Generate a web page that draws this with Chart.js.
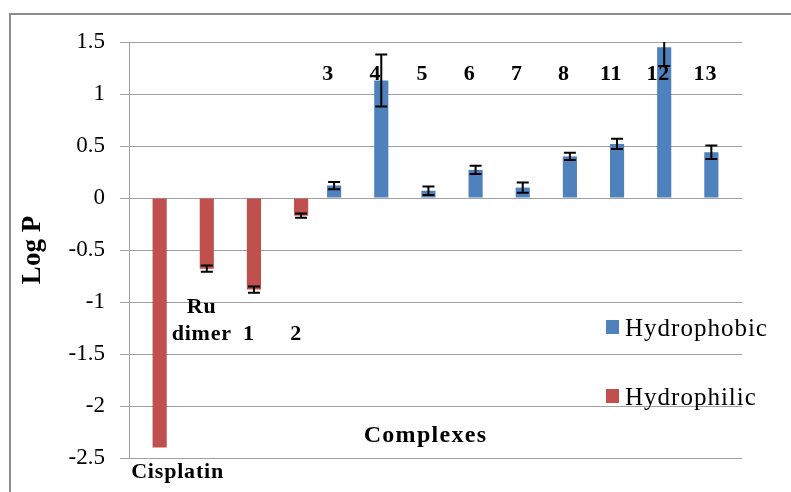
<!DOCTYPE html>
<html>
<head>
<meta charset="utf-8">
<script src="https://cdn.jsdelivr.net/npm/chart.js@4.4.1/dist/chart.umd.min.js"></script>
<style>
  html, body { margin: 0; padding: 0; background: #fff; }
  #wrap { position: relative; width: 791px; height: 492px; overflow: hidden; }
  #frame { position: absolute; left: 9px; top: 13px; width: 900px; height: 600px;
           border-top: 2px solid #8c8c8c; border-left: 2px solid #8c8c8c; }
  canvas { position: absolute; left: 0; top: 0; }
</style>
</head>
<body>
<div id="wrap">
  <div id="frame"></div>
  <canvas id="logpChart" width="791" height="492"></canvas>
</div>
<script>
// Log P values
const categories = ["Cisplatin", "Ru dimer", "1", "2", "3", "4", "5", "6", "7", "8", "11", "12", "13"];
const hydrophobic    = [null, null, null, null, 0.12, 1.13, 0.07, 0.27, 0.10, 0.40, 0.52, 1.45, 0.44];
const hydrophobicErr = [null, null, null, null, 0.035, 0.25, 0.04, 0.04, 0.05, 0.035, 0.05, 0.18, 0.065];
const hydrophilic    = [-2.40, -0.68, -0.88, -0.17, null, null, null, null, null, null, null, null, null];
const hydrophilicErr = [0, 0.03, 0.03, 0.02, null, null, null, null, null, null, null, null, null];
const yTicks = { min: -2.5, max: 1.5, step: 0.5 };

const BLUE = "#4f81bd";
const RED = "#c0504d";
const SERIF = '"Liberation Serif", "Times New Roman", serif';

// category names are written inside the plot, not on an axis
const labelPlugin = {
  id: "complexLabels",
  afterDatasetsDraw(chart) {
    const ctx = chart.ctx, x = chart.scales.x, y = chart.scales.y, area = chart.chartArea;
    ctx.save();
    ctx.fillStyle = "#000";
    ctx.textAlign = "center";
    ctx.textBaseline = "alphabetic";
    ctx.font = "bold 22px " + SERIF;
    ctx.letterSpacing = "0.8px";
    categories.forEach((name, i) => {
      const cx = x.getPixelForValue(i);
      let px, py;
      if (i === 0) {
        px = cx + 25; py = area.bottom + 20;
      } else if (hydrophilic[i] != null) {
        px = cx + 2; py = y.getPixelForValue(-1.37);
      } else {
        px = cx - 13; py = y.getPixelForValue(1.135);
      }
      const lines = name.split(" ");
      lines.forEach((ln, k) => ctx.fillText(ln, px, py - (lines.length - 1 - k) * 27));
    });

    ctx.font = "bold 24px " + SERIF;
    ctx.letterSpacing = "1.3px";
    ctx.fillText("Complexes", (area.left + area.right) / 2 - 10, y.getPixelForValue(-2.35));
    ctx.restore();
  }
};

// black error bars, clipped to the plot
const errorBarsPlugin = {
  id: "errorBars",
  afterDatasetsDraw(chart) {
    const ctx = chart.ctx, y = chart.scales.y, area = chart.chartArea;
    ctx.save();
    ctx.beginPath();
    ctx.rect(area.left, area.top, area.right - area.left, area.bottom - area.top);
    ctx.clip();
    ctx.strokeStyle = "#000";
    ctx.lineWidth = 2;
    chart.data.datasets.forEach((ds, di) => {
      const meta = chart.getDatasetMeta(di);
      meta.data.forEach((bar, i) => {
        const v = ds.data[i], e = ds.errors[i];
        if (v == null || !e) return;
        const top = y.getPixelForValue(v + e);
        const bot = y.getPixelForValue(v - e);
        ctx.beginPath();
        ctx.moveTo(bar.x, top); ctx.lineTo(bar.x, bot);
        ctx.moveTo(bar.x - 6, top); ctx.lineTo(bar.x + 6, top);
        ctx.moveTo(bar.x - 6, bot); ctx.lineTo(bar.x + 6, bot);
        ctx.stroke();
      });
    });
    ctx.restore();
  }
};

// legend sits over the right part of the plot
const legendPlugin = {
  id: "sideLegend",
  afterDraw(chart) {
    const ctx = chart.ctx, area = chart.chartArea;
    ctx.save();
    ctx.font = "25px " + SERIF;
    ctx.letterSpacing = "1px";
    ctx.textAlign = "left";
    ctx.textBaseline = "alphabetic";
    chart.data.datasets.forEach((ds, i) => {
      const sx = area.right - 136;
      const sy = area.top + 278 + i * 69;
      ctx.fillStyle = ds.backgroundColor;
      ctx.fillRect(sx, sy, 13, 14);
      ctx.fillStyle = "#000";
      ctx.fillText(ds.label, sx + 19, sy + 15.5);
    });
    ctx.restore();
  }
};

new Chart(document.getElementById("logpChart").getContext("2d"), {
  type: "bar",
  data: {
    labels: categories,
    datasets: [
      { label: "Hydrophobic", data: hydrophobic, errors: hydrophobicErr, backgroundColor: BLUE },
      { label: "Hydrophilic", data: hydrophilic, errors: hydrophilicErr, backgroundColor: RED }
    ]
  },
  options: {
    responsive: false,
    animation: false,
    devicePixelRatio: 1,
    layout: { padding: { left: 0, top: 42, right: 49, bottom: 34 } },
    datasets: { bar: { categoryPercentage: 0.6, barPercentage: 1.0 } },
    plugins: { legend: { display: false }, tooltip: { enabled: false } },
    scales: {
      x: { display: false },
      y: {
        min: yTicks.min,
        max: yTicks.max,
        afterFit(scale) { scale.width = 129; },
        ticks: {
          stepSize: yTicks.step,
          color: "#000",
          padding: 15,
          font: { family: SERIF, size: 23 },
          callback: (value) => String(value)
        },
        grid: { color: "#a0a0a0", tickLength: 9, lineWidth: 1 },
        border: { color: "#a0a0a0" },
        title: {
          display: true,
          text: "Log P",
          color: "#000",
          font: { family: SERIF, size: 27, weight: "bold" },
          padding: { top: 17, bottom: 0 }
        }
      }
    }
  },
  plugins: [labelPlugin, errorBarsPlugin, legendPlugin]
});
</script>
</body>
</html>
